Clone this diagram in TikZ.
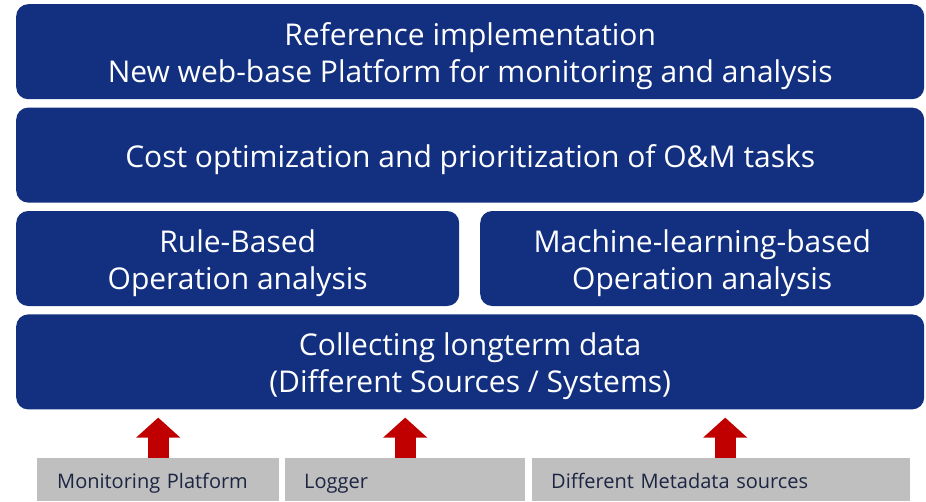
\documentclass[tikz,border=0pt]{standalone}
\usepackage{fontspec}
\setmainfont{Open Sans}
\usetikzlibrary{positioning,arrows.meta}
\definecolor{layerblue}{HTML}{12307F}
\definecolor{srcgray}{HTML}{BFBFBF}
\definecolor{srctext}{HTML}{1C2541}
\definecolor{feedred}{HTML}{C00000}
% taller first line, so the text sits a bit lower in its box
\newcommand{\layerstrut}{\rule{0pt}{32pt}}

\begin{document}
\begin{tikzpicture}[x=1pt, y=-1pt,
    layer/.style={fill=layerblue, rounded corners=12pt, text=white, align=center,
      minimum height=95pt, inner sep=0pt, font=\fontsize{30}{37}\selectfont},
    source/.style={fill=srcgray, text=srctext, anchor=north west, align=left,
      minimum height=43pt, inner xsep=19pt, inner ysep=0pt,
      text height=20pt, text depth=3pt,
      font=\fontsize{20}{24}\selectfont},
    feed/.style={draw=feedred, line width=21pt,
      -{Triangle[length=20pt, width=43pt]}, shorten >=8pt}]
  \useasboundingbox (0,0) rectangle (926,501);

  % stacked layers
  \node[layer, minimum width=908pt, anchor=north west] (ref) at (16,4)
    {\layerstrut Reference implementation\\New web-base Platform for monitoring and analysis};
  \node[layer, minimum width=908pt, below=8pt of ref] (cost)
    {\layerstrut Cost optimization and prioritization of O\&M tasks};
  \node[layer, minimum width=443pt, below=8pt of cost.south west, anchor=north west] (rule)
    {\layerstrut Rule-Based\\Operation analysis};
  \node[layer, minimum width=444pt, below=8pt of cost.south east, anchor=north east] (ml)
    {\layerstrut Machine-learning-based\\Operation analysis};
  \node[layer, minimum width=908pt, below=8pt of rule.south west, anchor=north west] (collect)
    {\layerstrut Collecting longterm data\\(Different Sources / Systems)};

  % data sources
  \node[source, text width=202pt, inner xsep=20pt] (monitor) at (37,458) {Monitoring Platform};
  \node[source, text width=202pt] (logger) at (285,458) {Logger};
  \node[source, text width=340pt] (meta) at (532,458) {Different Metadata sources};

  \draw[feed] (monitor.north) -- (monitor.north |- collect.south);
  \draw[feed] (logger.north) -- (logger.north |- collect.south);
  \draw[feed] ([xshift=4pt]meta.north) -- ([xshift=4pt]meta.north |- collect.south);
\end{tikzpicture}
\end{document}
